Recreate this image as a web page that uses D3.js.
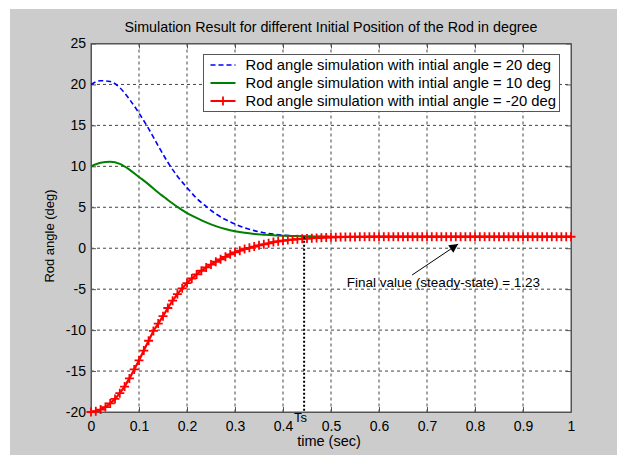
<!DOCTYPE html>
<html>
<head>
<meta charset="utf-8">
<script src="https://cdn.jsdelivr.net/npm/d3@7"></script>
<style>
  body { margin: 0; background: #fff; }
  svg { display: block; font-family: "Liberation Sans", Arial, sans-serif; }
  .axis path, .axis line { stroke: #555; }
  .axis text { fill: #000; font-size: 14px; }
  .grid line { stroke: #444; stroke-dasharray: 3,3; }
</style>
</head>
<body>
<div id="chart"></div>
<script>
// sample times of the smooth curves (sec)
var curveTime = [0, 0.02, 0.04, 0.06, 0.08, 0.10, 0.12, 0.14, 0.16, 0.18, 0.20, 0.22, 0.24,
                 0.26, 0.28, 0.30, 0.32, 0.34, 0.36, 0.38, 0.40, 0.42, 0.44, 0.46, 0.48, 0.50,
                 0.6, 0.7, 0.8, 0.9, 1.0];
// initial angle = 20 deg
var rod20 = [20.0, 20.45, 20.35, 19.6, 18.2, 16.5, 14.6, 12.5, 10.5, 8.8, 7.4, 6.1, 5.1,
             4.2, 3.5, 2.95, 2.5, 2.15, 1.9, 1.72, 1.6, 1.52, 1.47, 1.44, 1.42, 1.41,
             1.4, 1.4, 1.4, 1.4, 1.4];
// initial angle = 10 deg
var rod10 = [10.0, 10.45, 10.55, 10.3, 9.6, 8.7, 7.8, 6.8, 5.9, 5.05, 4.3, 3.7, 3.15,
             2.7, 2.35, 2.08, 1.88, 1.74, 1.65, 1.57, 1.52, 1.48, 1.45, 1.43, 1.42, 1.41,
             1.4, 1.4, 1.4, 1.4, 1.4];

// initial angle = -20 deg, one sample every 0.01 sec (marked with +)
var markTime = [0, 0.01, 0.02, 0.03, 0.04, 0.05, 0.06, 0.07, 0.08, 0.09,
                0.10, 0.11, 0.12, 0.13, 0.14, 0.15, 0.16, 0.17, 0.18, 0.19,
                0.20, 0.21, 0.22, 0.23, 0.24, 0.25, 0.26, 0.27, 0.28, 0.29,
                0.30, 0.31, 0.32, 0.33, 0.34, 0.35, 0.36, 0.37, 0.38, 0.39,
                0.40, 0.41, 0.42, 0.43, 0.44, 0.45, 0.46, 0.47, 0.48, 0.49,
                0.50, 0.51, 0.52, 0.53, 0.54, 0.55, 0.56, 0.57, 0.58, 0.59,
                0.60, 0.61, 0.62, 0.63, 0.64, 0.65, 0.66, 0.67, 0.68, 0.69,
                0.70, 0.71, 0.72, 0.73, 0.74, 0.75, 0.76, 0.77, 0.78, 0.79,
                0.80, 0.81, 0.82, 0.83, 0.84, 0.85, 0.86, 0.87, 0.88, 0.89,
                0.90, 0.91, 0.92, 0.93, 0.94, 0.95, 0.96, 0.97, 0.98, 0.99, 1.00];
var rodMinus20 = [-20.0, -19.9, -19.7, -19.4, -18.95, -18.4, -17.7, -16.9, -15.9, -14.8,
                  -13.7, -12.5, -11.3, -10.1, -9.2, -8.3, -7.3, -6.4, -5.6, -4.9,
                  -4.25, -3.7, -3.2, -2.75, -2.35, -2.0, -1.65, -1.35, -1.05, -0.75,
                  -0.5, -0.3, -0.1, 0.05, 0.2, 0.35, 0.48, 0.6, 0.75, 0.84,
                  0.92, 0.99, 1.05, 1.1, 1.15, 1.19, 1.23, 1.26, 1.29, 1.32,
                  1.34, 1.35, 1.36, 1.37, 1.38, 1.38, 1.39, 1.39, 1.4, 1.4,
                  1.4, 1.4, 1.4, 1.4, 1.4, 1.4, 1.4, 1.4, 1.4, 1.4,
                  1.4, 1.4, 1.4, 1.4, 1.4, 1.4, 1.4, 1.4, 1.4, 1.4,
                  1.4, 1.4, 1.4, 1.4, 1.4, 1.4, 1.4, 1.4, 1.4, 1.4,
                  1.4, 1.4, 1.4, 1.4, 1.4, 1.4, 1.4, 1.4, 1.4, 1.4, 1.4];

var xTicks = [0, 0.1, 0.2, 0.3, 0.4, 0.5, 0.6, 0.7, 0.8, 0.9, 1];
var yTicks = [-20, -15, -10, -5, 0, 5, 10, 15, 20, 25];
var legendLabels = ["Rod angle simulation with intial angle = 20 deg",
                    "Rod angle simulation with intial angle = 10 deg",
                    "Rod angle simulation with intial angle = -20 deg"];
var settleTime = 0.444;   // Ts
var finalValue = 1.4;

var W = 617, H = 455;
var margin = {top: 43.5, right: 46, bottom: 43, left: 91},
    width = W - margin.left - margin.right,
    height = H - margin.top - margin.bottom;

var x = d3.scaleLinear().domain([0, 1]).range([0, width]);
var y = d3.scaleLinear().domain([-20, 25]).range([height, 0]);

var svg = d3.select("#chart").append("svg")
    .attr("width", W)
    .attr("height", H);

// figure background
svg.append("rect")
   .attr("x", 10).attr("y", 9)
   .attr("width", W - 10).attr("height", H - 9)
   .attr("fill", "#cccccc");

var g = svg.append("g")
    .attr("transform", "translate(" + margin.left + "," + margin.top + ")");

g.append("rect")
 .attr("width", width).attr("height", height)
 .attr("fill", "#fff");

// grid
g.append("g").attr("class", "grid")
 .selectAll("line").data(xTicks.slice(1, -1)).enter().append("line")
 .attr("x1", d => x(d)).attr("x2", d => x(d))
 .attr("y1", 0).attr("y2", height);
g.append("g").attr("class", "grid")
 .selectAll("line").data(yTicks.slice(1, -1)).enter().append("line")
 .attr("x1", 0).attr("x2", width)
 .attr("y1", d => y(d)).attr("y2", d => y(d));

// axes, ticks pointing inward on all four sides (plain hyphen for minus)
var fmt = d3.formatLocale({decimal: ".", thousands: ",", grouping: [3], currency: ["", ""], minus: "-"}).format("~g");
g.append("g").attr("class", "axis")
 .attr("transform", "translate(0," + height + ")")
 .call(d3.axisBottom(x).tickValues(xTicks).tickFormat(fmt).tickSizeInner(-5).tickSizeOuter(0).tickPadding(9));
g.append("g").attr("class", "axis")
 .call(d3.axisTop(x).tickValues(xTicks).tickFormat("").tickSizeInner(-5).tickSizeOuter(0));
g.append("g").attr("class", "axis")
 .call(d3.axisLeft(y).tickValues(yTicks).tickFormat(fmt).tickSizeInner(-5).tickSizeOuter(0).tickPadding(5));
g.append("g").attr("class", "axis")
 .attr("transform", "translate(" + width + ",0)")
 .call(d3.axisRight(y).tickValues(yTicks).tickFormat("").tickSizeInner(-5).tickSizeOuter(0));
g.append("rect")
 .attr("width", width).attr("height", height)
 .attr("fill", "none").attr("stroke", "#555");

// curves
var smooth = d3.line()
    .x((d, i) => x(curveTime[i]))
    .y(d => y(d))
    .curve(d3.curveMonotoneX);

g.append("path")
 .attr("d", smooth(rod20))
 .attr("fill", "none").attr("stroke", "#0000ff")
 .attr("stroke-width", 1.6).attr("stroke-dasharray", "5,3");

g.append("path")
 .attr("d", smooth(rod10))
 .attr("fill", "none").attr("stroke", "#008000")
 .attr("stroke-width", 2);

var redLine = d3.line()
    .x((d, i) => x(markTime[i]))
    .y(d => y(d));

g.append("path")
 .attr("d", redLine(rodMinus20))
 .attr("fill", "none").attr("stroke", "#ff0000")
 .attr("stroke-width", 2.2);

function plus(cx, cy, r) {
  return "M" + (cx - r) + "," + cy + "h" + (2 * r) + "M" + cx + "," + (cy - r) + "v" + (2 * r);
}

g.append("g").selectAll("path")
 .data(rodMinus20).enter().append("path")
 .attr("d", (d, i) => plus(x(markTime[i]), y(d), 4.5))
 .attr("stroke", "#ff0000").attr("stroke-width", 1.8);

// Ts marker
g.append("line")
 .attr("x1", x(settleTime)).attr("x2", x(settleTime))
 .attr("y1", y(finalValue)).attr("y2", height)
 .attr("stroke", "#000").attr("stroke-width", 2).attr("stroke-dasharray", "2,2");
g.append("text")
 .attr("x", x(0.423)).attr("y", height + 9.5)
 .style("font-size", "13px")
 .text("Ts");

// steady-state annotation
svg.append("defs").append("marker")
   .attr("id", "head")
   .attr("viewBox", "0 0 10 10")
   .attr("refX", 10).attr("refY", 5)
   .attr("markerWidth", 10).attr("markerHeight", 9)
   .attr("markerUnits", "userSpaceOnUse")
   .attr("orient", "auto")
 .append("path")
   .attr("d", "M0,0L10,5L0,10z")
   .attr("fill", "#000");

g.append("line")
 .attr("x1", x(0.669)).attr("y1", y(-3.27))
 .attr("x2", x(0.765)).attr("y2", y(0.51))
 .attr("stroke", "#000").attr("stroke-width", 1)
 .attr("marker-end", "url(#head)");
g.append("text")
 .attr("x", x(0.533)).attr("y", y(-4.74))
 .style("font-size", "13.5px")
 .text("Final value (steady-state) = 1.23");

// legend
var legend = g.append("g")
    .attr("transform", "translate(" + (203.5 - margin.left) + "," + (54.5 - margin.top) + ")");
legend.append("rect")
      .attr("width", 356).attr("height", 57)
      .attr("fill", "#fff").attr("stroke", "#555");

var legendStyle = [
  {color: "#0000ff", dash: "5,3", w: 1.6, mark: false},
  {color: "#008000", dash: null, w: 2, mark: false},
  {color: "#ff0000", dash: null, w: 2, mark: true}
];

legendLabels.forEach((label, i) => {
  var row = legend.append("g")
      .attr("transform", "translate(0," + (10.5 + i * 18) + ")");
  row.append("line")
     .attr("x1", 7).attr("x2", 32)
     .attr("stroke", legendStyle[i].color)
     .attr("stroke-width", legendStyle[i].w)
     .attr("stroke-dasharray", legendStyle[i].dash);
  if (legendStyle[i].mark) {
    row.append("path")
       .attr("d", plus(19.5, 0, 4.5))
       .attr("stroke", legendStyle[i].color).attr("stroke-width", 1.8);
  }
  row.append("text")
     .attr("x", 42).attr("dy", "0.36em")
     .style("font-size", "14.8px")
     .text(label);
});

// titles
svg.append("text")
   .attr("x", margin.left + width / 2).attr("y", 32)
   .attr("text-anchor", "middle")
   .style("font-size", "14.3px")
   .text("Simulation Result for different Initial Position of the Rod in degree");

svg.append("text")
   .attr("x", margin.left + width / 2 - 2).attr("y", 446)
   .attr("text-anchor", "middle")
   .style("font-size", "14.5px")
   .text("time (sec)");

svg.append("text")
   .attr("transform", "translate(54,236) rotate(-90)")
   .attr("text-anchor", "middle")
   .style("font-size", "13px")
   .text("Rod angle (deg)");
</script>
</body>
</html>
